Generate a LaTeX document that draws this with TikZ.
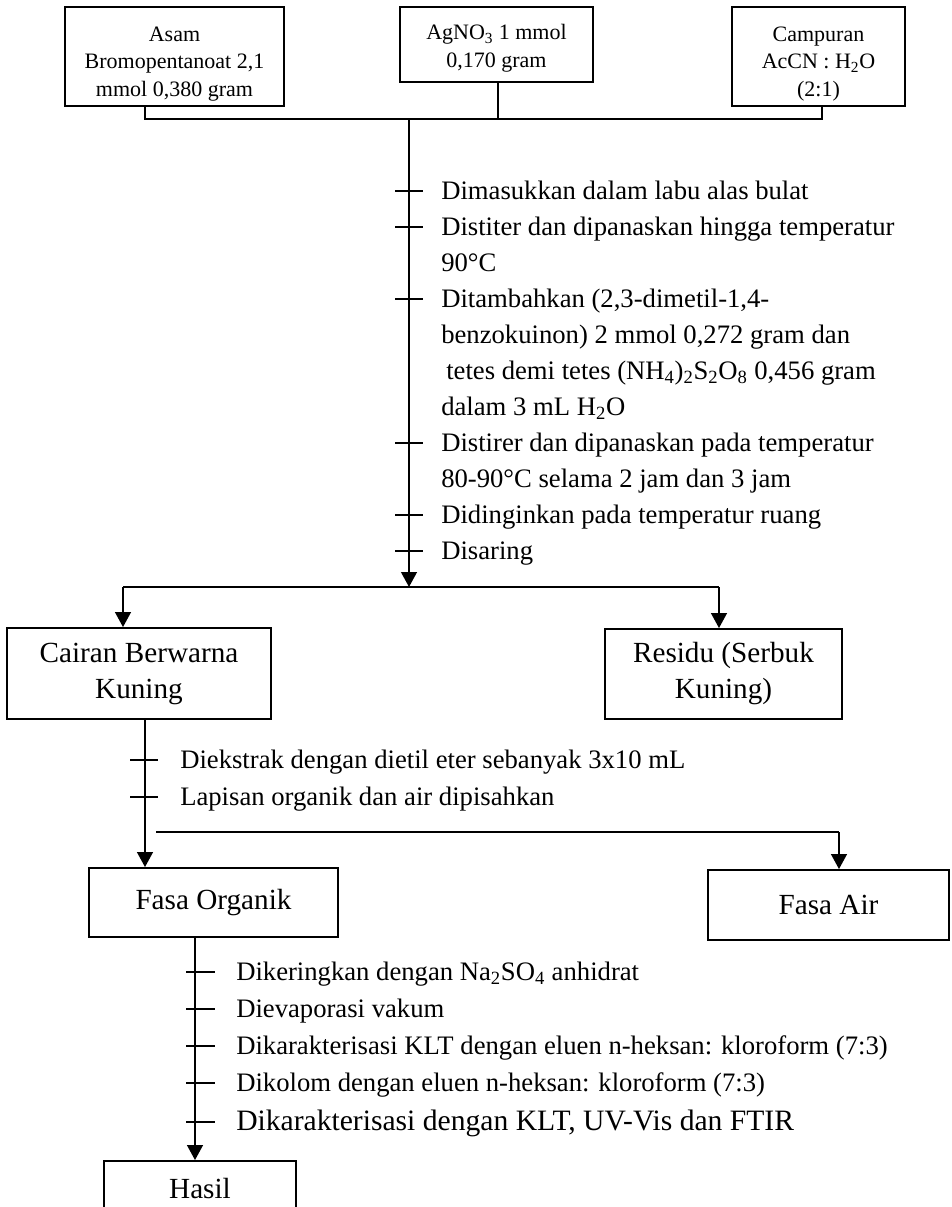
\documentclass[tikz,border=0pt]{standalone}
\usepackage{fontspec}
\setmainfont{Liberation Serif}
\usetikzlibrary{arrows.meta}
\newcommand{\topfont}{\fontsize{16.5pt}{20.6pt}\selectfont}
\newcommand{\boxfont}{\fontsize{21.9pt}{27pt}\selectfont}
\newcommand{\stepfont}{\fontsize{20pt}{27pt}\selectfont}
\newcommand{\bigstepfont}{\fontsize{22.2pt}{27pt}\selectfont}
% taller first line so the box text sits lower in the box
\newcommand{\firstline}[1][22pt]{\rule{0pt}{#1}}
\begin{document}
\begin{tikzpicture}[x=0.75pt,y=-0.75pt,
  line/.style={line width=1.4pt},
  arr/.style={line, -{Triangle[width=11.8pt,length=11.2pt]}},
  tickmark/.style={line width=1.1pt},
  topbox/.style={draw, line width=1.4pt, align=center, inner sep=0pt, font=\topfont},
  mainbox/.style={draw, line width=1.4pt, align=center, inner sep=0pt, font=\boxfont},
  steptext/.style={anchor=base west, inner sep=0pt, font=\stepfont},
  bigsteptext/.style={anchor=base west, inner sep=0pt, font=\bigstepfont},
]
\clip (0,0) rectangle (951,1207);

% starting materials
\node[topbox, minimum width=219*0.75pt, minimum height=99*0.75pt] (asam) at (174.5,56.5)
  {\firstline Asam\\Bromopentanoat 2,1\\mmol 0,380 gram};
\node[topbox, minimum width=193*0.75pt, minimum height=75*0.75pt] (agno) at (496.5,44.5)
  {\firstline[17pt]AgNO\textsubscript{3} 1 mmol\\0,170 gram};
\node[topbox, minimum width=173*0.75pt, minimum height=99*0.75pt] (camp) at (818.5,56.5)
  {\firstline Campuran\\AcCN : H\textsubscript{2}O\\(2:1)};

% joining bar
\coordinate (ja) at (145,119);
\coordinate (jb) at (498,119);
\coordinate (jc) at (822,119);
\coordinate (jm) at (409,119);
\draw[line] (ja |- asam.south) -- (ja) -- (jc) -- (jc |- camp.south);
\draw[line] (jb |- agno.south) -- (jb);

% main reaction stem
\coordinate (split) at (409,587);
\draw[arr] (jm) -- (split);
\foreach \ty in {191,227,299,443,515,551}
  \draw[tickmark] (395,\ty) -- (423,\ty);

\node[steptext] (m1) at (441,199) {Dimasukkan dalam labu alas bulat};
\node[steptext] (m2) at (441,235) {Distiter dan dipanaskan hingga temperatur};
\node[steptext] (m3) at (441,271) {90°C};
\node[steptext] (m4) at (441,307) {Ditambahkan (2,3-dimetil-1,4-};
\node[steptext] (m5) at (441,343) {benzokuinon) 2 mmol 0,272 gram dan};
\node[steptext] (m6) at (446,379) {tetes demi tetes (NH\textsubscript{4})\textsubscript{2}S\textsubscript{2}O\textsubscript{8} 0,456 gram};
\node[steptext] (m7) at (441,415) {dalam 3 mL H\textsubscript{2}O};
\node[steptext] (m8) at (441,451) {Distirer dan dipanaskan pada temperatur};
\node[steptext] (m9) at (441,487) {80-90°C selama 2 jam dan 3 jam};
\node[steptext] (m10) at (441,523) {Didinginkan pada temperatur ruang};
\node[steptext] (m11) at (441,559) {Disaring};

% filtration products
\node[mainbox, minimum width=264*0.75pt, minimum height=91*0.75pt] (cairan) at (139,673.5)
  {Cairan Berwarna\\Kuning};
\node[mainbox, minimum width=237*0.75pt, minimum height=90*0.75pt] (residu) at (723.5,674)
  {Residu (Serbuk\\Kuning)};
\coordinate (sl) at (123,587);
\coordinate (sr) at (719,587);
\draw[line] (sl) -- (sr);
\draw[arr] (sl) -- (sl |- cairan.north);
\draw[arr] (sr) -- (sr |- residu.north);

% extraction
\node[mainbox, minimum width=249*0.75pt, minimum height=69*0.75pt] (organik) at (213.5,902.5)
  {Fasa Organik};
\node[mainbox, minimum width=241*0.75pt, minimum height=70*0.75pt] (air) at (828.5,905)
  {Fasa Air};
\coordinate (cs) at (145,719);
\draw[arr] (cs |- cairan.south) -- (cs |- organik.north);
\foreach \ty in {760,797}
  \draw[tickmark] (130,\ty) -- (158,\ty);
\node[steptext] (e1) at (180,768) {Diekstrak dengan dietil eter sebanyak 3x10 mL};
\node[steptext] (e2) at (180,805) {Lapisan organik dan air dipisahkan};
\coordinate (bl) at (156,832);
\coordinate (br) at (839,832);
\draw[line] (bl) -- (br);
\draw[arr] (br) -- (br |- air.north);

% work-up of the organic phase
\node[mainbox, minimum width=192*0.75pt, minimum height=54*0.75pt] (hasil) at (200,1188)
  {Hasil};
\coordinate (os) at (195,937);
\draw[arr] (os |- organik.south) -- (os |- hasil.north);
\foreach \ty in {972,1009,1046,1083,1122}
  \draw[tickmark] (186,\ty) -- (215,\ty);
\node[steptext] (o1) at (236,980) {Dikeringkan dengan Na\textsubscript{2}SO\textsubscript{4} anhidrat};
\node[steptext] (o2) at (236,1017) {Dievaporasi vakum};
\node[steptext] (o3) at (236,1054) {Dikarakterisasi KLT dengan eluen n-heksan: kloroform (7:3)};
\node[steptext] (o4) at (236,1091) {Dikolom dengan eluen n-heksan: kloroform (7:3)};
\node[bigsteptext] (o5) at (236,1130) {Dikarakterisasi dengan KLT, UV-Vis dan FTIR};
\end{tikzpicture}
\end{document}
